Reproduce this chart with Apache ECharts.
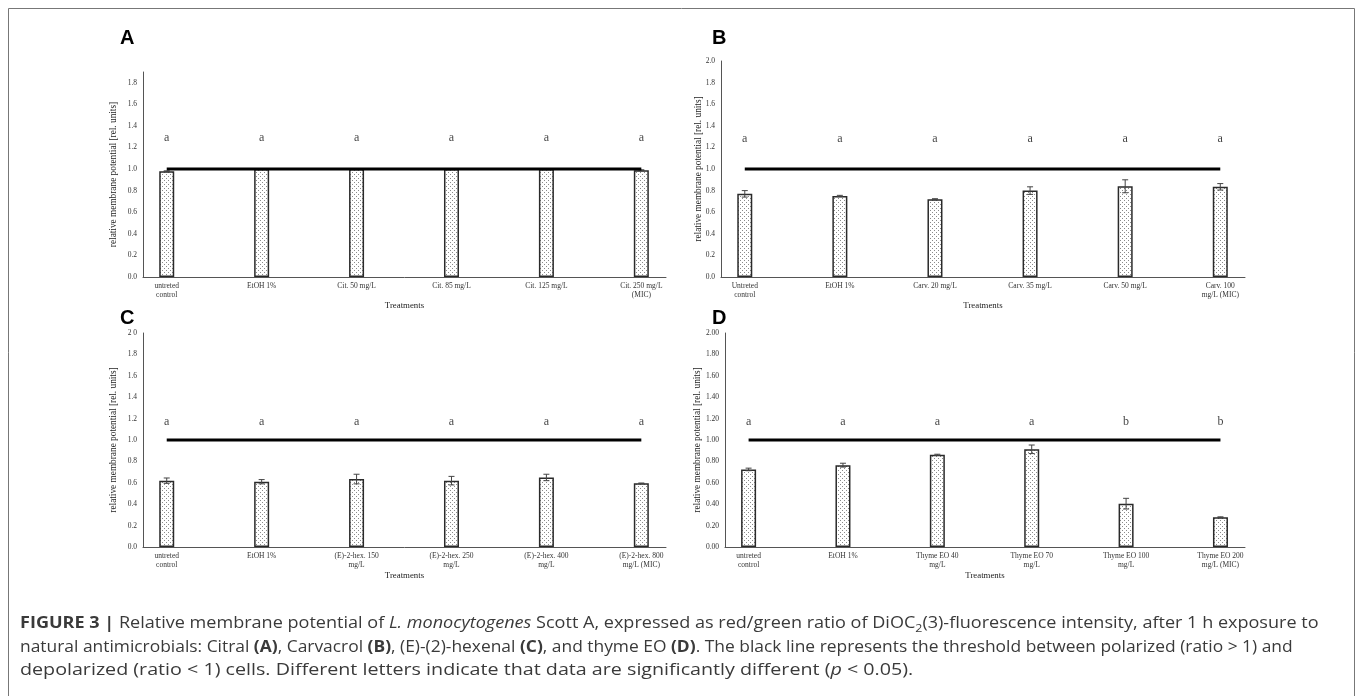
<!DOCTYPE html>
<html><head><meta charset="utf-8">
<script src="https://cdn.jsdelivr.net/npm/echarts@6/dist/echarts.min.js"></script>
<style>html,body{margin:0;padding:0;background:#fff}#c{width:1357px;height:696px}</style>
</head><body><div id="c"></div>
<script>
// ---------- DATA ----------
const categoriesA = ['untreted\ncontrol','EtOH 1%','Cit. 50 mg/L','Cit. 85 mg/L','Cit. 125 mg/L','Cit. 250 mg/L\n(MIC)'];
const valuesA = [0.98, 1.00, 1.00, 1.00, 1.00, 0.99];
const errorsA = [0.004, 0.004, 0.004, 0.004, 0.004, 0.004];
const lettersA = ['a','a','a','a','a','a'];

const categoriesB = ['Untreted\ncontrol','EtOH 1%','Carv. 20 mg/L','Carv. 35 mg/L','Carv. 50 mg/L','Carv. 100\nmg/L (MIC)'];
const valuesB = [0.77, 0.75, 0.72, 0.80, 0.84, 0.835];
const errorsB = [0.03, 0.006, 0.005, 0.035, 0.06, 0.03];
const lettersB = ['a','a','a','a','a','a'];

const categoriesC = ['untreted\ncontrol','EtOH 1%','(E)-2-hex. 150\nmg/L','(E)-2-hex. 250\nmg/L','(E)-2-hex. 400\nmg/L','(E)-2-hex. 800\nmg/L (MIC)'];
const valuesC = [0.62, 0.61, 0.635, 0.62, 0.65, 0.595];
const errorsC = [0.025, 0.02, 0.045, 0.04, 0.03, 0.003];
const lettersC = ['a','a','a','a','a','a'];

const categoriesD = ['untreted\ncontrol','EtOH 1%','Thyme EO 40\nmg/L','Thyme EO 70\nmg/L','Thyme EO 100\nmg/L','Thyme EO 200\nmg/L (MIC)'];
const valuesD = [0.725, 0.765, 0.862, 0.913, 0.405, 0.278];
const errorsD = [0.012, 0.018, 0.005, 0.04, 0.05, 0.004];
const lettersD = ['a','a','a','a','b','b'];

const yTicksA = [0,0.2,0.4,0.6,0.8,1.0,1.2,1.4,1.6,1.8];
const yTickLabelsA = ['0.0','0.2','0.4','0.6','0.8','1.0','1.2','1.4','1.6','1.8'];
const yTicksB = [0,0.2,0.4,0.6,0.8,1.0,1.2,1.4,1.6,1.8,2.0];
const yTickLabelsB = ['0.0','0.2','0.4','0.6','0.8','1.0','1.2','1.4','1.6','1.8','2.0'];
const yTicksC = [0,0.2,0.4,0.6,0.8,1.0,1.2,1.4,1.6,1.8,2.0];
const yTickLabelsC = ['0.0','0.2','0.4','0.6','0.8','1.0','1.2','1.4','1.6','1.8','2 0'];
const yTicksD = [0,0.2,0.4,0.6,0.8,1.0,1.2,1.4,1.6,1.8,2.0];
const yTickLabelsD = ['0.00','0.20','0.40','0.60','0.80','1.00','1.20','1.40','1.60','1.80','2.00'];

const thresholdValue = 1.0;
const panelLetters = ['A','B','C','D'];
const xAxisTitle = 'Treatments';
const yAxisTitle = 'relative membrane potential [rel. units]';

// ---------- LAYOUT ----------
const panels = [
  {cats:categoriesA, vals:valuesA, errs:errorsA, letters:lettersA, ticks:yTicksA, tickLabels:yTickLabelsA,
   grid:{left:143, top:72, width:523, height:205}, ymax:1.9, letterY:1.29, nameGap:25, tag:{x:120,y:28}},
  {cats:categoriesB, vals:valuesB, errs:errorsB, letters:lettersB, ticks:yTicksB, tickLabels:yTickLabelsB,
   grid:{left:721, top:61, width:524, height:216}, ymax:2.0, letterY:1.28, nameGap:18, tag:{x:712,y:28}},
  {cats:categoriesC, vals:valuesC, errs:errorsC, letters:lettersC, ticks:yTicksC, tickLabels:yTickLabelsC,
   grid:{left:143, top:333, width:523, height:214}, ymax:2.0, letterY:1.17, nameGap:25, tag:{x:120,y:308}},
  {cats:categoriesD, vals:valuesD, errs:errorsD, letters:lettersD, ticks:yTicksD, tickLabels:yTickLabelsD,
   grid:{left:725, top:333, width:520, height:214}, ymax:2.0, letterY:1.17, nameGap:23, tag:{x:712,y:308}}
];

function makePattern(){
  const c = document.createElement('canvas'); c.width = 4; c.height = 4;
  const g = c.getContext('2d');
  g.fillStyle = '#ffffff'; g.fillRect(0,0,4,4);
  g.fillStyle = '#8a8a8a'; g.fillRect(0,0,1,1); g.fillRect(2,2,1,1);
  return c;
}
const pattern = makePattern();
const SERIF = 'Liberation Serif';
const axisColor = '#555';

const grids = [], xAxes = [], yAxes = [], series = [], graphics = [];
panels.forEach((p, i) => {
  grids.push(Object.assign({containLabel:false, outerBoundsMode:'none'}, p.grid));
  const idx = p.cats.map((_, k) => k);
  xAxes.push({
    type:'value', gridIndex:i, min:-0.25, max:5.26,
    axisLine:{show:true, onZero:false, lineStyle:{color:axisColor, width:1}},
    axisTick:{show:false}, splitLine:{show:false},
    axisLabel:{customValues:idx, margin:5, fontFamily:SERIF, fontSize:7.5, color:'#333', lineHeight:9,
      formatter:(v)=>p.cats[Math.round(v)] || ''},
    name:xAxisTitle, nameLocation:'middle', nameGap:24,
    nameTextStyle:{fontFamily:SERIF, fontSize:8.8, color:'#222'}
  });
  yAxes.push({
    type:'value', gridIndex:i, min:0, max:p.ymax,
    axisLine:{show:true, onZero:false, lineStyle:{color:axisColor, width:1}},
    axisTick:{show:false}, splitLine:{show:false},
    axisLabel:{customValues:p.ticks, margin:6, fontFamily:SERIF, fontSize:7.5, color:'#333',
      formatter:(v)=>{ let best=0; p.ticks.forEach((t,k)=>{ if(Math.abs(t-v)<Math.abs(p.ticks[best]-v)) best=k; }); return p.tickLabels[best]; }},
    name:yAxisTitle, nameLocation:'middle', nameGap:p.nameGap, nameMoveOverlap:false,
    nameTextStyle:{fontFamily:SERIF, fontSize:9.3, color:'#222'}
  });
  series.push({
    type:'bar', xAxisIndex:i, yAxisIndex:i, barWidth:15,
    data:p.vals.map((v,k)=>[k, v]),
    itemStyle:{color:{image:pattern, repeat:'repeat'}, borderColor:'#2a2a2a', borderWidth:1.5},
    z:2, silent:true
  });
  series.push({
    type:'custom', xAxisIndex:i, yAxisIndex:i, z:3, silent:true,
    data:p.vals.map((v,k)=>[k, v, p.errs[k]]),
    renderItem:(params, api)=>{
      const x=api.value(0), v=api.value(1), e=api.value(2);
      const hi=api.coord([x, v+e]), lo=api.coord([x, v-e]);
      const st={stroke:'#444', lineWidth:1};
      return {type:'group', children:[
        {type:'line', shape:{x1:hi[0], y1:hi[1], x2:lo[0], y2:lo[1]}, style:st},
        {type:'line', shape:{x1:hi[0]-3, y1:hi[1], x2:hi[0]+3, y2:hi[1]}, style:st},
        {type:'line', shape:{x1:lo[0]-3, y1:lo[1], x2:lo[0]+3, y2:lo[1]}, style:st}
      ]};
    }
  });
  series.push({
    type:'line', xAxisIndex:i, yAxisIndex:i, z:4, silent:true, symbol:'none',
    data:[[0, thresholdValue],[p.cats.length-1, thresholdValue]],
    lineStyle:{color:'#000', width:3}
  });
  series.push({
    type:'scatter', xAxisIndex:i, yAxisIndex:i, z:5, silent:true, symbolSize:1,
    itemStyle:{color:'rgba(0,0,0,0)'},
    data:p.letters.map((l,k)=>[k, p.letterY]),
    label:{show:true, position:'inside', formatter:(d)=>p.letters[d.dataIndex],
      fontFamily:SERIF, fontSize:12, color:'#111'}
  });
  graphics.push({type:'text', left:p.tag.x, top:p.tag.y,
    style:{text:panelLetters[i], font:'bold 20px "Liberation Sans", Arial, sans-serif', fill:'#000'}});
});

// border
graphics.push({type:'rect', shape:{x:8.5, y:8.5, width:1346, height:720}, style:{fill:'none', stroke:'#777', lineWidth:1}, z:-1});

const capRich = {
  b:{fontWeight:'bold', fontFamily:'Open Sans', fontSize:16, color:'#222'},
  i:{fontStyle:'italic', fontFamily:'Open Sans', fontSize:16, color:'#3a3a3a'},
  s:{fontFamily:'Open Sans', fontSize:11, color:'#3a3a3a', verticalAlign:'bottom', lineHeight:12}
};
const capLines = [
  '{b|FIGURE 3 |} Relative membrane potential of {i|L. monocytogenes} Scott A, expressed as red/green ratio of DiOC{s|2}(3)-fluorescence intensity, after 1 h exposure to',
  'natural antimicrobials: Citral {b|(A)}, Carvacrol {b|(B)}, (E)-(2)-hexenal {b|(C)}, and thyme EO {b|(D)}. The black line represents the threshold between polarized (ratio > 1) and',
  'depolarized (ratio < 1) cells. Different letters indicate that data are significantly different ({i|p} < 0.05).'
];
const capY = [623, 647, 670];
const capScale = [1.128, 1.087, 1.23];
capLines.forEach((t, k) => {
  graphics.push({type:'text', x:20, y:capY[k]-11, scaleX:capScale[k], scaleY:1,
    style:{text:t, rich:capRich, fontFamily:'Open Sans', fontSize:16, fill:'#3a3a3a', lineHeight:22}});
});

const chart = echarts.init(document.getElementById('c'), null, {renderer:'canvas'});
chart.setOption({
  animation:false, backgroundColor:'#fff',
  grid:grids, xAxis:xAxes, yAxis:yAxes, series:series, graphic:graphics
});
</script></body></html>
